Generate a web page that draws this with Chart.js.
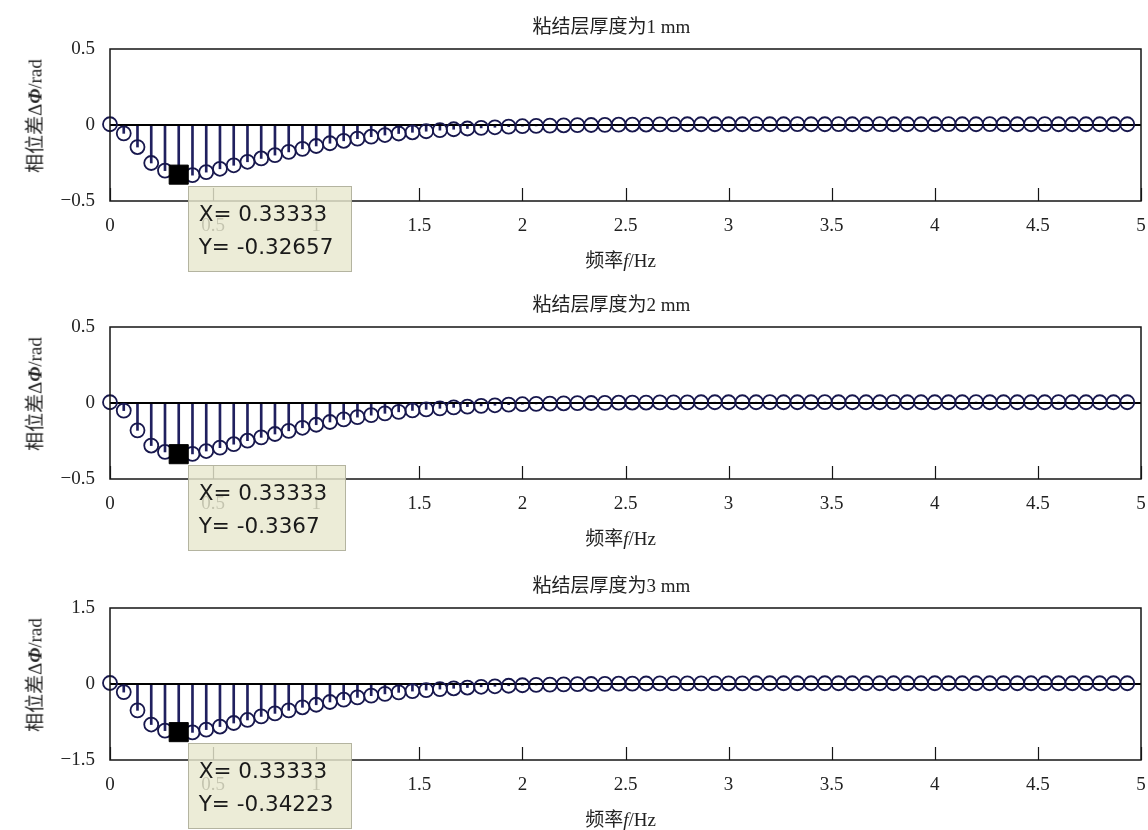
<!DOCTYPE html>
<html>
<head>
<meta charset="utf-8">
<script src="https://cdn.jsdelivr.net/npm/chart.js@4"></script>
<style>
    body { margin: 0; background: #fff; }
    #page { position: relative; width: 1148px; height: 830px; overflow: hidden;
            font-family: 'Liberation Serif', 'Noto Sans CJK SC', serif; color: #222; }
    .panel { position: absolute; left: 0; width: 1148px; height: 272px; }
    .panel canvas { position: absolute; left: 0; top: 0; }
    .lbl { position: absolute; white-space: nowrap; font-size: 19px; line-height: 1; transform: translate(-50%, -50%); }
    .ylab { transform: translate(-50%, -50%) rotate(-90deg); }
    .tip { position: absolute; white-space: nowrap; background: rgba(232, 232, 206, 0.82);
           border: 1.5px solid rgba(170, 170, 150, 0.85); padding: 10px 18px 8px 10px;
           font-family: 'DejaVu Sans', sans-serif; font-size: 21.5px; line-height: 33px; color: #1a1a1a; }
</style>
</head>
<body>
<div id="page"></div>
<script>
/* ======================
   DATA
   ====================== */

// frequency of each stem (Hz)
const freq = [
    0, 0.0667, 0.1333, 0.2, 0.2667, 0.3333, 0.4, 0.4667, 0.5333, 0.6, 0.6667, 0.7333, 0.8, 0.8667, 0.9333,
    1, 1.0667, 1.1333, 1.2, 1.2667, 1.3333, 1.4, 1.4667, 1.5333, 1.6, 1.6667, 1.7333, 1.8, 1.8667, 1.9333,
    2, 2.0667, 2.1333, 2.2, 2.2667, 2.3333, 2.4, 2.4667, 2.5333, 2.6, 2.6667, 2.7333, 2.8, 2.8667, 2.9333,
    3, 3.0667, 3.1333, 3.2, 3.2667, 3.3333, 3.4, 3.4667, 3.5333, 3.6, 3.6667, 3.7333, 3.8, 3.8667, 3.9333,
    4, 4.0667, 4.1333, 4.2, 4.2667, 4.3333, 4.4, 4.4667, 4.5333, 4.6, 4.6667, 4.7333, 4.8, 4.8667, 4.9333
];

// phase difference, bond layer 1 mm
const phase1mm = [
    0.005, -0.055, -0.145, -0.250, -0.300, -0.3266, -0.330, -0.310, -0.288, -0.265, -0.242, -0.220, -0.198, -0.177, -0.157,
    -0.138, -0.120, -0.104, -0.090, -0.077, -0.066, -0.056, -0.048, -0.041, -0.034, -0.028, -0.023, -0.019, -0.015, -0.011,
    -0.008, -0.006, -0.004, -0.002, -0.001, 0.000, 0.001, 0.002, 0.003, 0.003, 0.004, 0.004, 0.005, 0.005, 0.005,
    0.005, 0.005, 0.006, 0.005, 0.005, 0.006, 0.005, 0.005, 0.006, 0.005, 0.005, 0.006, 0.005, 0.005, 0.005,
    0.005, 0.006, 0.005, 0.005, 0.006, 0.005, 0.005, 0.005, 0.006, 0.005, 0.005, 0.005, 0.005, 0.005, 0.005
];

// phase difference, bond layer 2 mm
const phase2mm = [
    0.005, -0.050, -0.180, -0.280, -0.322, -0.3367, -0.335, -0.316, -0.294, -0.271, -0.248, -0.226, -0.204, -0.183, -0.163,
    -0.143, -0.125, -0.108, -0.093, -0.080, -0.068, -0.058, -0.049, -0.042, -0.035, -0.029, -0.024, -0.019, -0.015, -0.011,
    -0.008, -0.006, -0.004, -0.002, -0.001, 0.000, 0.001, 0.002, 0.003, 0.003, 0.004, 0.004, 0.004, 0.005, 0.005,
    0.005, 0.005, 0.005, 0.006, 0.005, 0.005, 0.005, 0.006, 0.005, 0.005, 0.005, 0.005, 0.006, 0.005, 0.005,
    0.005, 0.005, 0.005, 0.006, 0.005, 0.005, 0.005, 0.005, 0.005, 0.006, 0.005, 0.005, 0.005, 0.005, 0.005
];

// phase difference, bond layer 3 mm
const phase3mm = [
    0.02, -0.16, -0.52, -0.80, -0.92, -0.95, -0.955, -0.90, -0.84, -0.77, -0.71, -0.64, -0.58, -0.52, -0.46,
    -0.41, -0.355, -0.31, -0.265, -0.23, -0.195, -0.165, -0.14, -0.12, -0.10, -0.085, -0.07, -0.055, -0.045, -0.035,
    -0.025, -0.018, -0.012, -0.007, -0.003, 0.000, 0.003, 0.006, 0.008, 0.010, 0.012, 0.012, 0.013, 0.013, 0.014,
    0.014, 0.014, 0.015, 0.015, 0.015, 0.015, 0.015, 0.015, 0.015, 0.015, 0.015, 0.015, 0.015, 0.015, 0.015,
    0.015, 0.015, 0.015, 0.015, 0.015, 0.015, 0.015, 0.015, 0.015, 0.015, 0.015, 0.015, 0.015, 0.015, 0.015
];

const titles = ['粘结层厚度为1 mm', '粘结层厚度为2 mm', '粘结层厚度为3 mm'];
const yLimits = [0.5, 0.5, 1.5];
const tipX = ['X= 0.33333', 'X= 0.33333', 'X= 0.33333'];
const tipY = ['Y= -0.32657', 'Y= -0.3367', 'Y= -0.34223'];
const tipIndex = 5;

/* ======================
   HELPERS
   ====================== */

const FONT = "'Liberation Serif', 'Noto Sans CJK SC', serif";
const panelTops = [0, 278, 559];

const fmtTick = v => (v < 0 ? '\u2212' + Math.abs(v) : String(v));

// box round the plot plus the inward tick marks at the bottom
const framePlugin = {
    id: 'frame',
    afterDatasetsDraw(chart) {
        const { ctx, chartArea: a, scales: { x } } = chart;
        ctx.save();
        ctx.strokeStyle = '#151515';
        ctx.lineWidth = 1.5;
        ctx.strokeRect(a.left, a.top, a.right - a.left, a.bottom - a.top);
        ctx.lineWidth = 1.2;
        x.ticks.forEach(t => {
            const px = Math.round(x.getPixelForValue(t.value)) + 0.5;
            ctx.beginPath();
            ctx.moveTo(px, a.bottom);
            ctx.lineTo(px, a.bottom - 13);
            ctx.stroke();
        });
        ctx.restore();
    }
};

const addLabel = (parent, html, cls, left, top) => {
    const el = document.createElement('div');
    el.className = cls;
    el.innerHTML = html;
    el.style.left = left + 'px';
    el.style.top = top + 'px';
    parent.appendChild(el);
    return el;
};

/* ======================
   PANELS
   ====================== */

const makePanel = (i, values) => {
    const page = document.getElementById('page');
    const panel = document.createElement('div');
    panel.className = 'panel';
    panel.style.top = panelTops[i] + 'px';
    const canvas = document.createElement('canvas');
    canvas.width = 1148;
    canvas.height = 272;
    panel.appendChild(canvas);
    page.appendChild(panel);

    const pts = freq.map((f, k) => ({ x: f, y: values[k] }));
    const lim = yLimits[i];

    const chart = new Chart(canvas, {
        type: 'bar',
        data: {
            datasets: [
                {   // data tip marker
                    type: 'scatter', data: [pts[tipIndex]], pointStyle: 'rect', radius: 13.5,
                    backgroundColor: '#000', borderColor: '#000', order: 0
                },
                {   // stem heads
                    type: 'scatter', data: pts, pointStyle: 'circle', radius: 7, borderWidth: 1.8,
                    borderColor: '#17174d', backgroundColor: 'rgba(0,0,0,0)', clip: false, order: 1
                },
                {   // stem baseline
                    type: 'line', data: [{ x: 0, y: 0 }, { x: 5, y: 0 }], borderColor: '#000',
                    borderWidth: 2.2, pointRadius: 0, order: 2
                },
                {   // stems
                    type: 'bar', data: pts, barThickness: 2, backgroundColor: '#20205f', order: 3
                }
            ]
        },
        options: {
            responsive: false,
            animation: false,
            events: [],
            layout: { autoPadding: false, padding: { top: 49, right: 7, left: 0, bottom: 0 } },
            plugins: { legend: { display: false }, tooltip: { enabled: false } },
            scales: {
                x: {
                    type: 'linear', min: 0, max: 5, offset: false,
                    grid: { display: false, drawTicks: false },
                    border: { display: false },
                    afterFit: s => { s.height = 71; s.paddingLeft = 0; s.paddingRight = 0; },
                    ticks: {
                        stepSize: 0.5, autoSkip: false, maxRotation: 0, padding: 14,
                        color: '#222', font: { family: FONT, size: 19 },
                        callback: v => String(v)
                    }
                },
                y: {
                    min: -lim, max: lim,
                    grid: { display: false, drawTicks: false },
                    border: { display: false },
                    afterFit: s => { s.width = 110; s.paddingTop = 0; s.paddingBottom = 0; },
                    ticks: {
                        stepSize: lim, padding: 15,
                        color: '#222', font: { family: FONT, size: 19 },
                        callback: fmtTick
                    }
                }
            }
        },
        plugins: [framePlugin]
    });

    // text round the plot, placed from the chart area
    const a = chart.chartArea;
    const cx = (a.left + a.right) / 2;
    addLabel(panel, titles[i], 'lbl', cx - 14, a.top - 23);
    addLabel(panel, '频率<i>f</i>/Hz', 'lbl', cx - 5, a.bottom + 59);
    addLabel(panel, '相位差Δ<b><i>Φ</i></b>/rad', 'lbl ylab', 35, (a.top + a.bottom) / 2 - 9);

    // data tip box next to the marker
    const px = chart.scales.x.getPixelForValue(pts[tipIndex].x);
    const py = chart.scales.y.getPixelForValue(pts[tipIndex].y);
    const tip = document.createElement('div');
    tip.className = 'tip';
    tip.innerHTML = tipX[i] + '<br>' + tipY[i];
    tip.style.left = (px + 9) + 'px';
    tip.style.top = (py + 11) + 'px';
    panel.appendChild(tip);
};

document.addEventListener('DOMContentLoaded', () => {
    makePanel(0, phase1mm);
    makePanel(1, phase2mm);
    makePanel(2, phase3mm);
});
</script>
</body>
</html>
